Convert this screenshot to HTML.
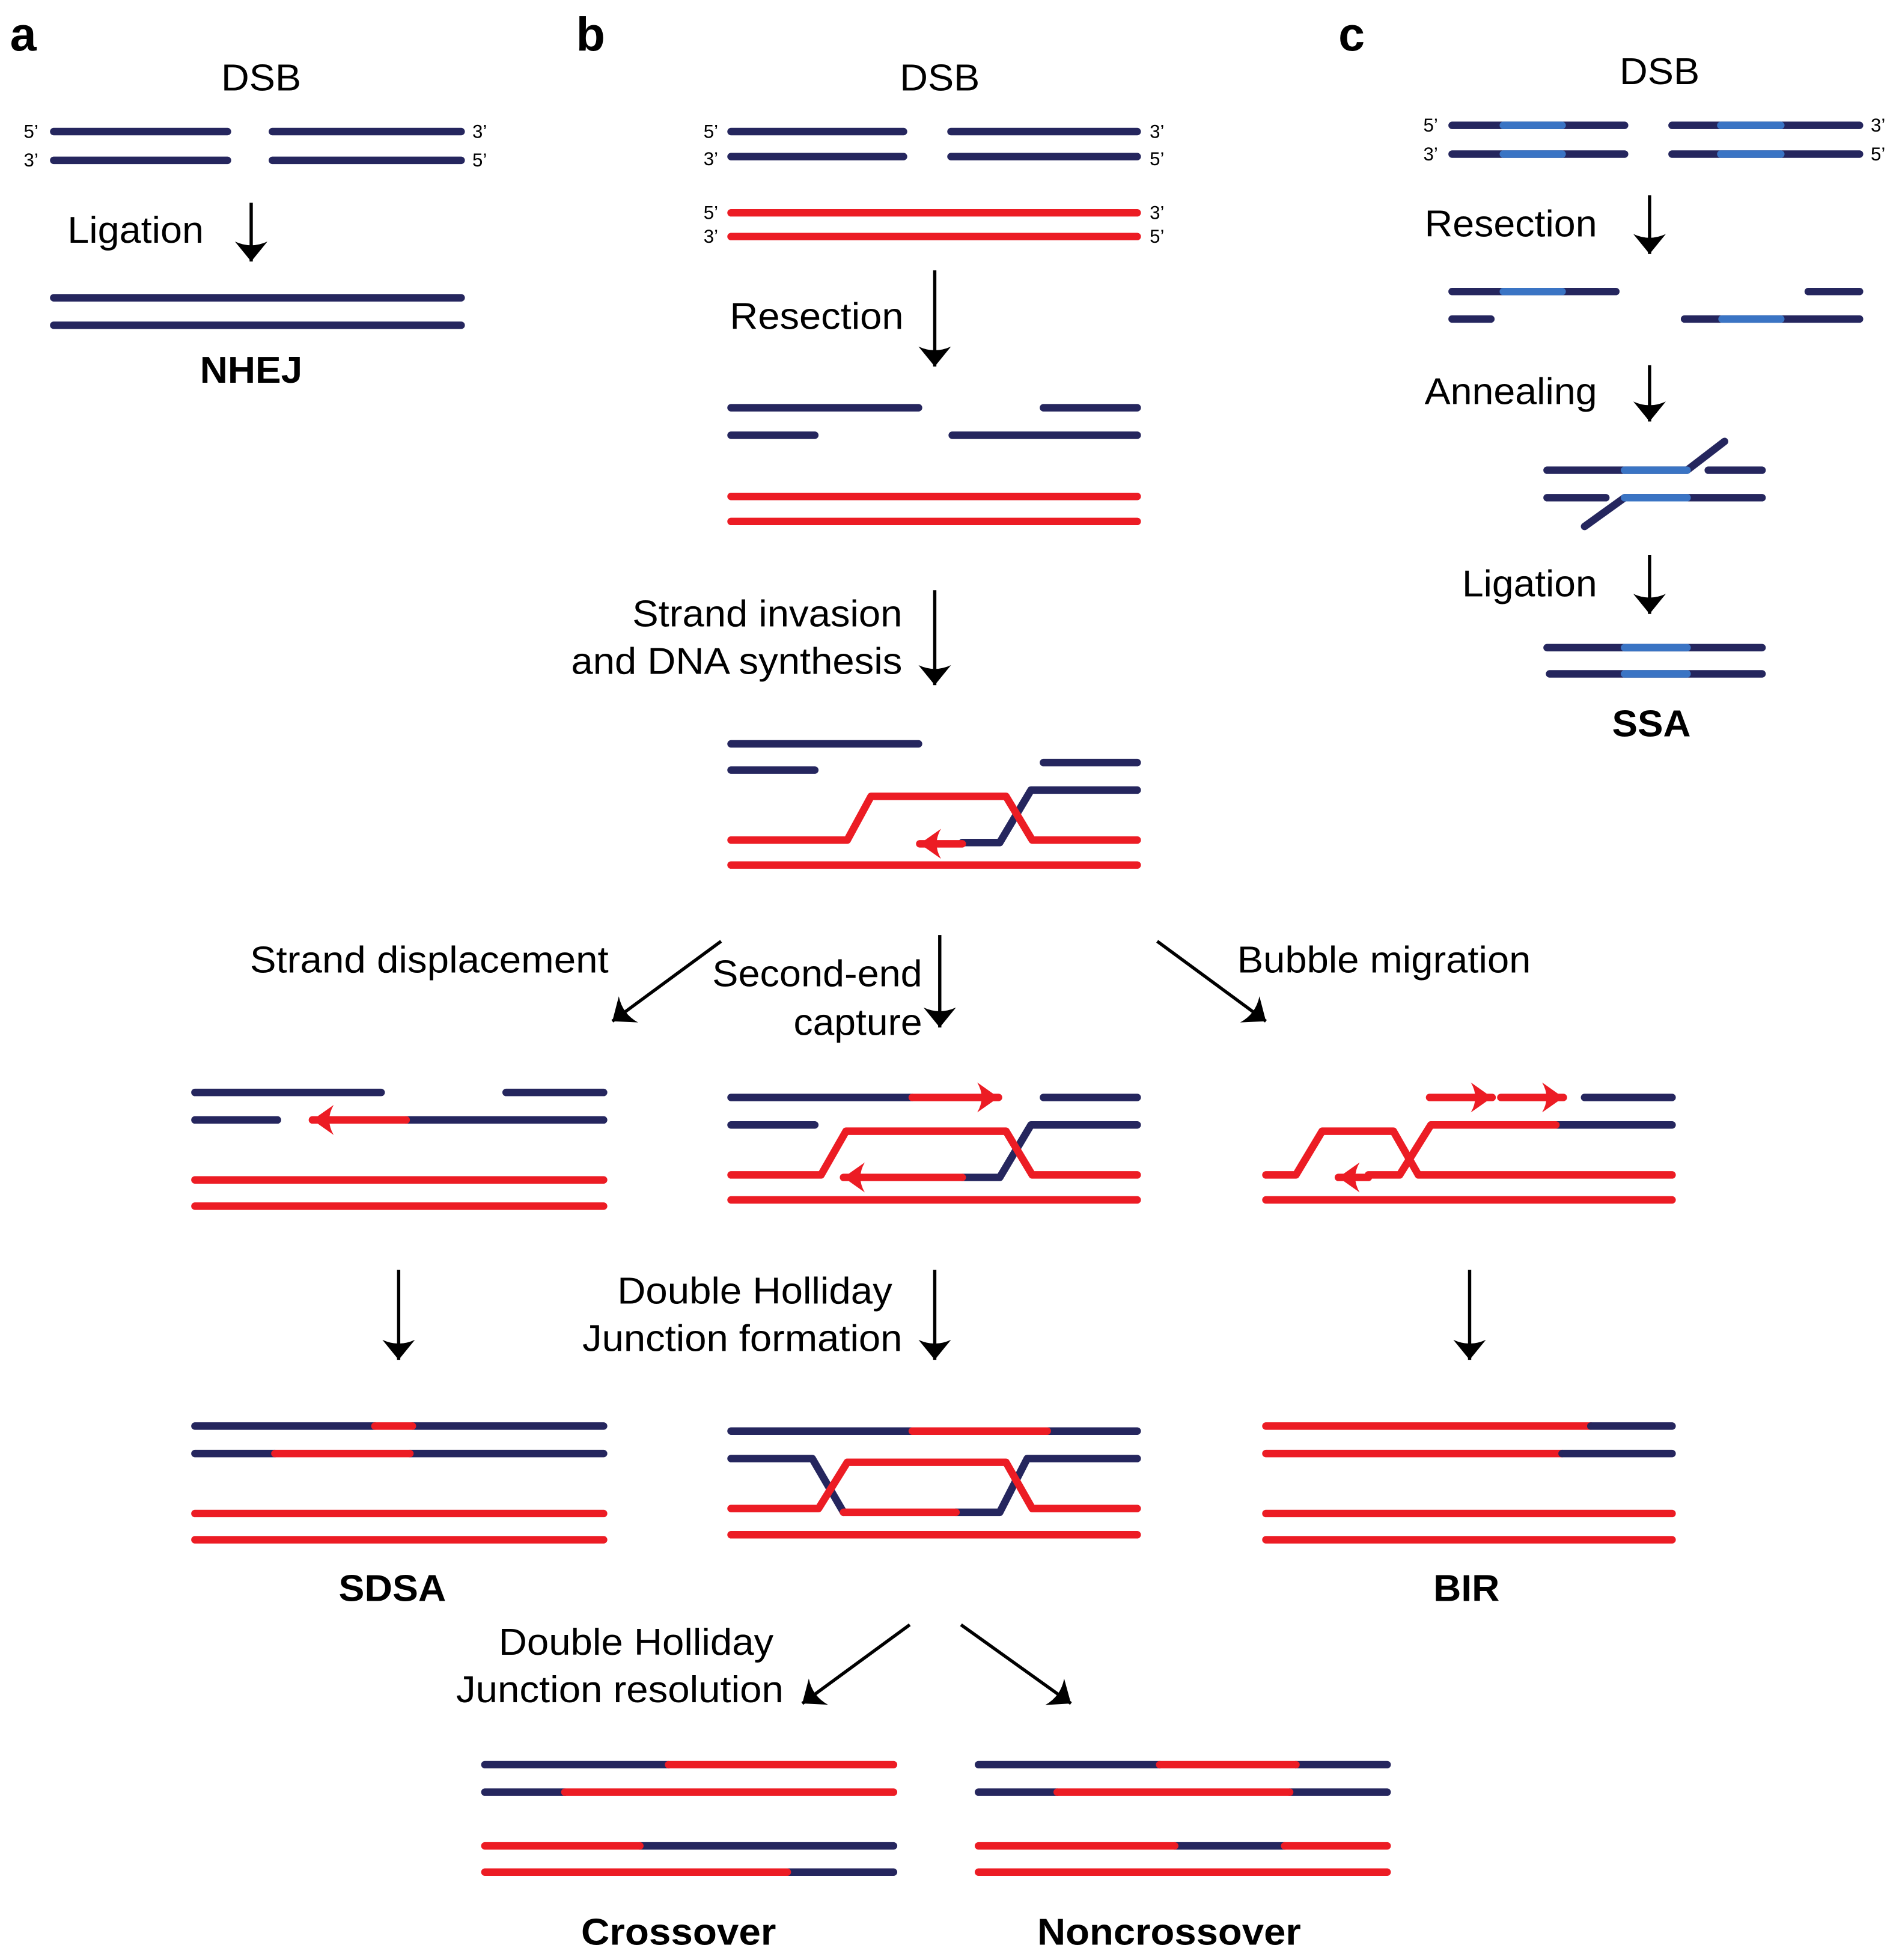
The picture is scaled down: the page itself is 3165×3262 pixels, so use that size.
<!DOCTYPE html>
<html><head><meta charset="utf-8"><style>
html,body{margin:0;padding:0;background:#fff}
svg{display:block}
text{font-family:"Liberation Sans",Arial,sans-serif;fill:#000}
.n{stroke:#25265e;stroke-width:6;stroke-linecap:round;fill:none;stroke-linejoin:round}
.r{stroke:#ec1c24;stroke-width:6;stroke-linecap:round;fill:none;stroke-linejoin:round}
.l{stroke:#3a74c4;stroke-width:6;stroke-linecap:round;fill:none}
.k{stroke:#000;stroke-width:2.6;fill:none}
.t{font-size:30px}
.s{font-size:15px}
.b{font-size:30px;font-weight:bold}
.p{font-size:38px;font-weight:bold}
</style></head><body>
<svg width="3165" height="3262" viewBox="0 0 1522 1568" xmlns="http://www.w3.org/2000/svg">
<defs>
<marker id="ah" markerUnits="userSpaceOnUse" markerWidth="40" markerHeight="40" viewBox="-20 -20 40 40" refX="0" refY="0" orient="auto">
<path d="M0,0 L-16,-13 Q-10,0 -16,13 Z" fill="#000"/></marker>
<marker id="rh" markerUnits="userSpaceOnUse" markerWidth="40" markerHeight="40" viewBox="-20 -20 40 40" refX="0" refY="0" orient="auto">
<path d="M0,0 L-17,-12 Q-10,0 -17,12 Z" fill="#ec1c24"/></marker>
</defs>

<!-- Panel a -->
<text x="8" y="40" class="p">a</text>
<text x="177" y="72" class="t" textLength="64" lengthAdjust="spacingAndGlyphs">DSB</text>
<text x="19" y="110" class="s">5’</text><text x="19" y="133" class="s">3’</text>
<text x="378" y="110" class="s">3’</text><text x="378" y="133" class="s">5’</text>
<path class="n" d="M43,105H182M218,105H369M43,128H182M218,128H369"/>
<text x="54" y="194" class="t" textLength="109" lengthAdjust="spacingAndGlyphs">Ligation</text>
<line class="k" x1="201" y1="162" x2="201" y2="209" marker-end="url(#ah)"/>
<path class="n" d="M43,238H369M43,260H369"/>
<text x="160" y="306" class="b" textLength="82" lengthAdjust="spacingAndGlyphs">NHEJ</text>

<!-- Panel b -->
<text x="461" y="40" class="p">b</text>
<text x="720" y="72" class="t" textLength="64" lengthAdjust="spacingAndGlyphs">DSB</text>
<text x="563" y="110" class="s">5’</text><text x="563" y="132" class="s">3’</text>
<text x="920" y="110" class="s">3’</text><text x="920" y="132" class="s">5’</text>
<path class="n" d="M585,105H723M761,105H910M585,125H723M761,125H910"/>
<text x="563" y="175" class="s">5’</text><text x="563" y="194" class="s">3’</text>
<text x="920" y="175" class="s">3’</text><text x="920" y="194" class="s">5’</text>
<path class="r" d="M585,170H910M585,189H910"/>
<text x="584" y="263" class="t" textLength="139" lengthAdjust="spacingAndGlyphs">Resection</text>
<line class="k" x1="748" y1="216" x2="748" y2="293" marker-end="url(#ah)"/>
<path class="n" d="M585,326H735M835,326H910M585,348H652M762,348H910"/>
<path class="r" d="M585,397H910M585,417H910"/>
<text x="506" y="501" class="t" textLength="216" lengthAdjust="spacingAndGlyphs">Strand invasion</text>
<text x="457" y="539" class="t" textLength="265" lengthAdjust="spacingAndGlyphs">and DNA synthesis</text>
<line class="k" x1="748" y1="472" x2="748" y2="548" marker-end="url(#ah)"/>
<path class="n" d="M585,595H735M585,616H652M835,610H910M910,632H825L800,674H770"/>
<path class="r" d="M585,672H678L697,637H805L826,672H910"/>
<line class="r" x1="770" y1="675" x2="736" y2="675" marker-end="url(#rh)"/>
<path class="r" d="M585,692H910"/>

<text x="200" y="778" class="t" textLength="287" lengthAdjust="spacingAndGlyphs">Strand displacement</text>
<line class="k" x1="577" y1="753" x2="490" y2="817" marker-end="url(#ah)"/>
<text x="570" y="789" class="t" textLength="168" lengthAdjust="spacingAndGlyphs">Second-end</text>
<text x="635" y="828" class="t" textLength="103" lengthAdjust="spacingAndGlyphs">capture</text>
<line class="k" x1="752" y1="748" x2="752" y2="822" marker-end="url(#ah)"/>
<text x="990" y="778" class="t" textLength="235" lengthAdjust="spacingAndGlyphs">Bubble migration</text>
<line class="k" x1="926" y1="753" x2="1013" y2="817" marker-end="url(#ah)"/>

<!-- SDSA intermediate -->
<path class="n" d="M156,874H305M405,874H483M156,896H222M325,896H483"/>
<line class="r" x1="325" y1="896" x2="250" y2="896" marker-end="url(#rh)"/>
<path class="r" d="M156,944H483M156,965H483"/>
<line class="k" x1="319" y1="1016" x2="319" y2="1088" marker-end="url(#ah)"/>
<path class="n" d="M156,1141H300M330,1141H483M156,1163H220M328,1163H483"/>
<path class="r" d="M300,1141H330M220,1163H328M156,1211H483M156,1232H483"/>
<text x="271" y="1281" class="b" textLength="86" lengthAdjust="spacingAndGlyphs">SDSA</text>

<!-- Second-end capture -->
<path class="n" d="M585,878H730M835,878H910M585,900H652M910,900H825L800,942H770"/>
<line class="r" x1="730" y1="878" x2="799" y2="878" marker-end="url(#rh)"/>
<path class="r" d="M585,940H657L677,905H805L826,940H910"/>
<line class="r" x1="770" y1="942" x2="675" y2="942" marker-end="url(#rh)"/>
<path class="r" d="M585,960H910"/>
<text x="494" y="1043" class="t" textLength="220" lengthAdjust="spacingAndGlyphs">Double Holliday</text>
<text x="466" y="1081" class="t" textLength="256" lengthAdjust="spacingAndGlyphs">Junction formation</text>
<line class="k" x1="748" y1="1016" x2="748" y2="1088" marker-end="url(#ah)"/>
<!-- dHJ -->
<path class="n" d="M585,1145H730M838,1145H910M585,1167H650L675,1210M765,1210H800L822,1167H910"/>
<path class="r" d="M730,1145H838M675,1210H765M585,1207H655L678,1170H805L826,1207H910M585,1228H910"/>
<text x="399" y="1324" class="t" textLength="220" lengthAdjust="spacingAndGlyphs">Double Holliday</text>
<text x="365" y="1362" class="t" textLength="262" lengthAdjust="spacingAndGlyphs">Junction resolution</text>
<line class="k" x1="728" y1="1300" x2="642" y2="1363" marker-end="url(#ah)"/>
<line class="k" x1="769" y1="1300" x2="857" y2="1363" marker-end="url(#ah)"/>

<!-- Crossover -->
<path class="n" d="M388,1412H535M388,1434H452M512,1477H715M630,1498H715"/>
<path class="r" d="M535,1412H715M452,1434H715M388,1477H512M388,1498H630"/>
<text x="465" y="1556" class="b" textLength="156" lengthAdjust="spacingAndGlyphs">Crossover</text>
<!-- Noncrossover -->
<path class="n" d="M783,1412H928M1037,1412H1110M783,1434H846M1032,1434H1110M940,1477H1028"/>
<path class="r" d="M928,1412H1037M846,1434H1032M783,1477H940M1028,1477H1110M783,1498H1110"/>
<text x="830" y="1556" class="b" textLength="211" lengthAdjust="spacingAndGlyphs">Noncrossover</text>

<!-- BIR -->
<line class="r" x1="1144" y1="878" x2="1194" y2="878" marker-end="url(#rh)"/>
<line class="r" x1="1201" y1="878" x2="1251" y2="878" marker-end="url(#rh)"/>
<path class="n" d="M1268,878H1338M1338,900H1245"/>
<path class="r" d="M1245,900H1145L1120,940H1095"/>
<line class="r" x1="1095" y1="942" x2="1071" y2="942" marker-end="url(#rh)"/>
<path class="r" d="M1013,940H1037L1058,905H1115L1135,940H1338M1013,960H1338"/>
<line class="k" x1="1176" y1="1016" x2="1176" y2="1088" marker-end="url(#ah)"/>
<path class="r" d="M1013,1141H1273M1013,1163H1250M1013,1211H1338M1013,1232H1338"/>
<path class="n" d="M1273,1141H1338M1250,1163H1338"/>
<text x="1147" y="1281" class="b" textLength="53" lengthAdjust="spacingAndGlyphs">BIR</text>

<!-- Panel c -->
<text x="1071" y="40" class="p">c</text>
<text x="1296" y="67" class="t" textLength="64" lengthAdjust="spacingAndGlyphs">DSB</text>
<text x="1139" y="105" class="s">5’</text><text x="1139" y="128" class="s">3’</text>
<text x="1497" y="105" class="s">3’</text><text x="1497" y="128" class="s">5’</text>
<path class="n" d="M1162,100H1300M1338,100H1488M1162,123H1300M1338,123H1488"/>
<path class="l" d="M1203,100H1250M1377,100H1425M1203,123H1250M1377,123H1425"/>
<text x="1140" y="189" class="t" textLength="138" lengthAdjust="spacingAndGlyphs">Resection</text>
<line class="k" x1="1320" y1="156" x2="1320" y2="203" marker-end="url(#ah)"/>
<path class="n" d="M1162,233H1293M1447,233H1488M1162,255H1193M1348,255H1488"/>
<path class="l" d="M1203,233H1250M1378,255H1425"/>
<text x="1140" y="323" class="t" textLength="138" lengthAdjust="spacingAndGlyphs">Annealing</text>
<line class="k" x1="1320" y1="292" x2="1320" y2="337" marker-end="url(#ah)"/>
<path class="n" d="M1238,376H1350L1380,353M1367,376H1410M1238,398H1285M1300,398L1268,421M1300,398H1410"/>
<path class="l" d="M1300,376H1350M1300,398H1350"/>
<text x="1170" y="477" class="t" textLength="108" lengthAdjust="spacingAndGlyphs">Ligation</text>
<line class="k" x1="1320" y1="444" x2="1320" y2="491" marker-end="url(#ah)"/>
<path class="n" d="M1238,518H1410M1240,539H1410"/>
<path class="l" d="M1300,518H1350M1300,539H1350"/>
<text x="1290" y="589" class="b" textLength="63" lengthAdjust="spacingAndGlyphs">SSA</text>
</svg>
</body></html>
